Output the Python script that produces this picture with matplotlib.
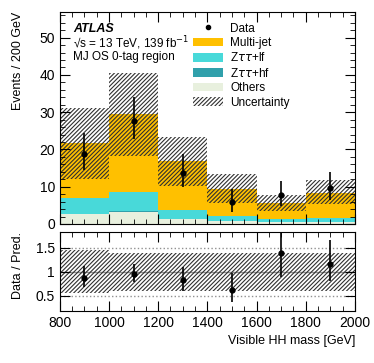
import numpy as np
import matplotlib
matplotlib.use('Agg')
import matplotlib.pyplot as plt
from matplotlib.patches import Patch
from matplotlib.lines import Line2D
from matplotlib.ticker import MultipleLocator, FuncFormatter

plt.rcParams['font.family'] = ['Liberation Sans', 'DejaVu Sans']
plt.rcParams['hatch.linewidth'] = 0.8

# binning and stacked backgrounds
edges = np.array([800, 1000, 1200, 1400, 1600, 1800, 2000])
others = np.array([2.6, 3.2, 1.25, 0.8, 0.6, 0.6])
ztt_hf = np.array([0.2, 0.2, 0.1, 0.05, 0.05, 0.05])
ztt_lf = np.array([4.25, 5.1, 2.4, 1.25, 0.75, 1.05])
multijet = np.array([14.55, 20.9, 13.05, 7.4, 4.1, 6.5])

# uncertainty band (lower / upper edge)
unc_lo = np.array([12.0, 18.2, 10.2, 5.6, 3.5, 5.3])
unc_hi = np.array([31.25, 40.6, 23.4, 13.4, 7.8, 11.8])

# data
data = np.array([18.75, 27.7, 13.75, 5.8, 7.8, 9.7])
data_lo = np.array([14.5, 22.7, 10.0, 3.2, 4.8, 6.4])
data_hi = np.array([24.3, 34.1, 18.75, 9.3, 11.6, 14.0])

# ratio panel
ratio = np.array([0.87, 0.95, 0.82, 0.62, 1.38, 1.17])
ratio_lo = np.array([0.68, 0.78, 0.60, 0.37, 0.90, 0.81])
ratio_hi = np.array([1.12, 1.17, 1.10, 0.98, 1.81, 1.67])
rband_lo = np.array([0.56, 0.60, 0.60, 0.60, 0.60, 0.60])
rband_hi = np.array([1.45, 1.40, 1.40, 1.40, 1.40, 1.40])

c_mj = '#ffc000'
c_lf = '#48d9d9'
c_hf = '#30a0ab'
c_oth = '#e8f0de'
c_hatch = '#303030'
hatch = '////////'

centers = 0.5 * (edges[:-1] + edges[1:])
widths = np.diff(edges)

fig = plt.figure(figsize=(3.74, 3.63), dpi=100)
ax = fig.add_axes([0.160, 0.383, 0.789, 0.585])
rax = fig.add_axes([0.160, 0.144, 0.789, 0.216])

bottom = np.zeros(len(centers))
for vals, col in [(others, c_oth), (ztt_hf, c_hf), (ztt_lf, c_lf), (multijet, c_mj)]:
    ax.bar(edges[:-1], vals, width=widths, bottom=bottom, align='edge',
           color=col, linewidth=0)
    bottom = bottom + vals

ax.bar(edges[:-1], unc_hi - unc_lo, width=widths, bottom=unc_lo, align='edge',
       facecolor='none', edgecolor=c_hatch, hatch=hatch, linewidth=0)

ax.errorbar(centers, data, yerr=[data - data_lo, data_hi - data],
            fmt='o', color='black', markersize=3.5, elinewidth=1.2, capsize=0)

ax.set_xlim(800, 2000)
ax.set_ylim(0, 57)
ax.yaxis.set_major_locator(MultipleLocator(10))
ax.yaxis.set_minor_locator(MultipleLocator(2))
ax.xaxis.set_major_locator(MultipleLocator(200))
ax.xaxis.set_minor_locator(MultipleLocator(50))
ax.tick_params(labelbottom=False)
ax.set_ylabel('Events / 200 GeV', fontsize=9, loc='top')

for a in (ax, rax):
    a.tick_params(which='both', direction='in', top=True, right=True, labelsize=10)
    a.tick_params(which='major', length=7)
    a.tick_params(which='minor', length=3.5)

ax.text(0.045, 0.92, 'ATLAS', transform=ax.transAxes, fontsize=9,
        fontweight='bold', fontstyle='italic', va='center')
ax.text(0.045, 0.852, '\u221as = 13 TeV, 139 fb$^{-1}$', transform=ax.transAxes,
        fontsize=8.5, va='center')
ax.text(0.045, 0.785, 'MJ OS 0-tag region', transform=ax.transAxes,
        fontsize=8.5, va='center')

handles = [
    Line2D([], [], marker='o', color='black', linestyle='none', markersize=3),
    Patch(facecolor=c_mj, edgecolor='none'),
    Patch(facecolor=c_lf, edgecolor='none'),
    Patch(facecolor=c_hf, edgecolor='none'),
    Patch(facecolor=c_oth, edgecolor='none'),
    Patch(facecolor='none', edgecolor=c_hatch, hatch=hatch, linewidth=0),
]
labels = ['Data', 'Multi-jet', r'Z$\tau\tau$+lf', r'Z$\tau\tau$+hf', 'Others', 'Uncertainty']
ax.legend(handles, labels, loc='upper left', bbox_to_anchor=(0.435, 0.97), frameon=False,
          fontsize=8.5, handlelength=2.55, handleheight=0.75, labelspacing=0.2,
          handletextpad=0.6, borderaxespad=0)

# ratio panel
rax.bar(edges[:-1], rband_hi - rband_lo, width=widths, bottom=rband_lo, align='edge',
        facecolor='none', edgecolor=c_hatch, hatch=hatch, linewidth=0)
for yv, ls in [(0.5, ':'), (1.0, '-'), (1.5, ':')]:
    rax.axhline(yv, color='#909090', linestyle=ls, linewidth=1.0, zorder=0)
rax.errorbar(centers, ratio, yerr=[ratio - ratio_lo, ratio_hi - ratio],
             fmt='o', color='black', markersize=3.5, elinewidth=1.2, capsize=0)
rax.set_xlim(800, 2000)
rax.set_ylim(0.19, 1.82)
rax.set_yticks([0.5, 1.0, 1.5])
rax.yaxis.set_major_formatter(FuncFormatter(lambda v, p: '%g' % v))
rax.xaxis.set_major_locator(MultipleLocator(200))
rax.xaxis.set_minor_locator(MultipleLocator(50))
rax.set_ylabel('Data / Pred.', fontsize=9, loc='top')
rax.set_xlabel('Visible HH mass [GeV]', fontsize=9, loc='right')

ax.yaxis.set_label_coords(-0.12, 1.0)
rax.yaxis.set_label_coords(-0.12, 1.0)

fig.savefig('out.png', dpi=100)
